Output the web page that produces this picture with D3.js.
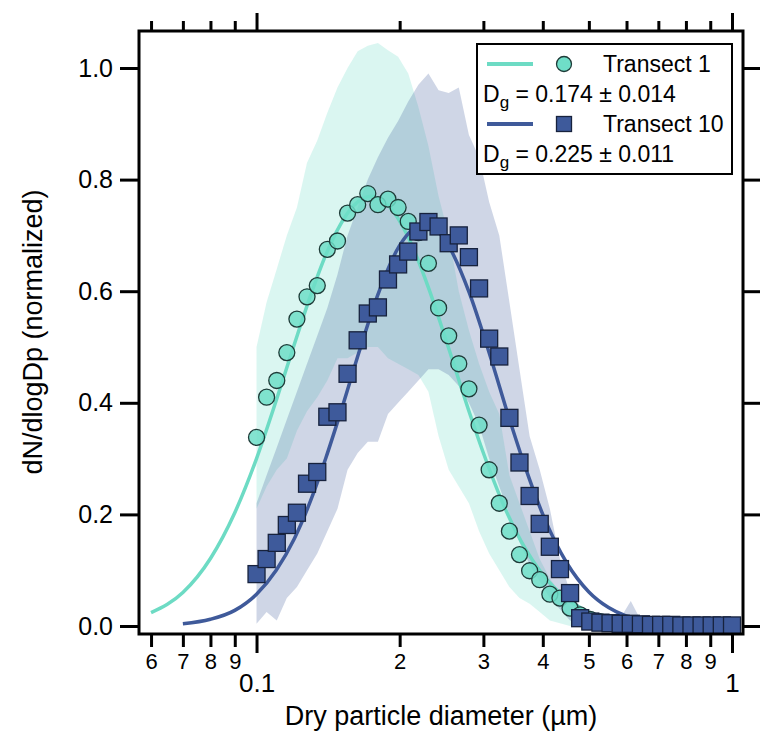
<!DOCTYPE html>
<html>
<head>
<meta charset="utf-8">
<script src="https://cdn.jsdelivr.net/npm/d3@7"></script>
<style>
  body { margin: 0; background: #fff; }
  text { font-family: "Liberation Sans", Arial, sans-serif; }
</style>
</head>
<body>
<svg width="760" height="732"></svg>
<script>
// bin diameters (um)
var diam = [0.1000, 0.1050, 0.1103, 0.1158, 0.1216, 0.1277, 0.1342, 0.1409, 0.1480, 0.1554,
  0.1632, 0.1714, 0.1800, 0.1890, 0.1985, 0.2085, 0.2190, 0.2299, 0.2415, 0.2536,
  0.2663, 0.2797, 0.2938, 0.3085, 0.3240, 0.3403, 0.3573, 0.3753, 0.3941, 0.4139,
  0.4347, 0.4565, 0.4794, 0.5035, 0.5288, 0.5553, 0.5832, 0.6125, 0.6433, 0.6755,
  0.7095, 0.7451, 0.7825, 0.8218, 0.8630, 0.9063, 0.9518, 1.0000];

var t1 = [0.338, 0.41, 0.44, 0.49, 0.55, 0.59, 0.61, 0.675, 0.69, 0.74,
  0.755, 0.775, 0.755, 0.765, 0.75, 0.725, 0.705, 0.65, 0.57, 0.52,
  0.47, 0.425, 0.36, 0.28, 0.22, 0.17, 0.128, 0.099, 0.083, 0.057,
  0.05, 0.032, 0.02, 0.012, 0.008, 0.005, 0.004, 0.003, 0.002, 0.002,
  0.001, 0.001, 0.001, 0, 0, 0, 0, 0];
var t1Hi = [0.50, 0.58, 0.64, 0.70, 0.75, 0.83, 0.87, 0.92, 0.965, 1.0,
  1.03, 1.04, 1.045, 1.032, 1.02, 0.99, 0.93, 0.86, 0.77, 0.70,
  0.60, 0.53, 0.47, 0.42, 0.38, 0.27, 0.22, 0.17, 0.12, 0.085,
  0.06, 0.035, 0.02, 0.01, 0.005, 0, 0, 0, 0, 0,
  0, 0, 0, 0, 0, 0, 0, 0];
var t1Lo = [0.21, 0.25, 0.28, 0.30, 0.35, 0.385, 0.41, 0.44, 0.48, 0.48,
  0.49, 0.50, 0.50, 0.48, 0.47, 0.46, 0.45, 0.42, 0.34, 0.28,
  0.25, 0.22, 0.17, 0.13, 0.10, 0.07, 0.05, 0.04, 0.025, 0.01,
  0.005, 0, 0, 0, 0, 0, 0, 0, 0, 0,
  0, 0, 0, 0, 0, 0, 0, 0];

var t10 = [0.093, 0.12, 0.149, 0.181, 0.203, 0.255, 0.276, 0.375, 0.383, 0.452,
  0.512, 0.56, 0.571, 0.621, 0.648, 0.671, 0.707, 0.724, 0.716, 0.686,
  0.70, 0.661, 0.605, 0.515, 0.483, 0.373, 0.293, 0.233, 0.183, 0.142,
  0.102, 0.059, 0.014, 0.008, 0.006, 0.005, 0.004, 0.004, 0.003, 0.002,
  0.002, 0.002, 0.001, 0.001, 0.001, 0.001, 0.001, 0.001];
var t10Hi = [0.22, 0.27, 0.32, 0.37, 0.42, 0.47, 0.52, 0.57, 0.63, 0.70,
  0.75, 0.80, 0.84, 0.875, 0.905, 0.94, 0.97, 0.99, 0.96, 0.955,
  0.965, 0.88, 0.84, 0.76, 0.70, 0.58, 0.46, 0.34, 0.28, 0.21,
  0.12, 0.06, 0.035, 0.025, 0.02, 0.02, 0.015, 0.045, 0.01, 0.005,
  0.005, 0.005, 0.005, 0.005, 0.005, 0.005, 0.005, 0.005];
var t10Lo = [0.004, 0.025, 0.01, 0.05, 0.07, 0.10, 0.13, 0.17, 0.21, 0.28,
  0.31, 0.33, 0.33, 0.38, 0.40, 0.42, 0.44, 0.46, 0.46, 0.45,
  0.43, 0.40, 0.36, 0.30, 0.25, 0.20, 0.15, 0.11, 0.08, 0.05,
  0.03, 0.01, 0, 0, 0, 0, 0, 0, 0, 0,
  0, 0, 0, 0, 0, 0, 0, 0];

// lognormal fit lines
var fit1D = [0.06, 0.07, 0.08, 0.09, 0.1, 0.11, 0.12, 0.13, 0.14, 0.15, 0.16, 0.174, 0.19,
  0.21, 0.23, 0.25, 0.28, 0.3, 0.33, 0.36, 0.4, 0.45, 0.5, 0.6, 0.7, 0.85, 1.0];
var fit1V = [0.024, 0.06, 0.121, 0.203, 0.30, 0.404, 0.504, 0.593, 0.666, 0.719, 0.753, 0.77, 0.752,
  0.691, 0.606, 0.514, 0.384, 0.31, 0.219, 0.152, 0.092, 0.048, 0.025, 0.007, 0.002, 0, 0];
var fit10D = [0.07, 0.08, 0.09, 0.1, 0.11, 0.12, 0.13, 0.14, 0.15, 0.165, 0.18, 0.2, 0.225,
  0.25, 0.28, 0.31, 0.34, 0.37, 0.4, 0.45, 0.5, 0.55, 0.6, 0.65, 0.7, 0.85, 1.0];
var fit10V = [0.004, 0.012, 0.028, 0.057, 0.10, 0.156, 0.225, 0.302, 0.381, 0.496, 0.594, 0.682, 0.72,
  0.69, 0.598, 0.484, 0.372, 0.277, 0.2, 0.112, 0.061, 0.033, 0.0175, 0.009, 0.005, 0.001, 0];

var yTicks = [0, 0.2, 0.4, 0.6, 0.8, 1.0];
var minorTicks = [0.06, 0.07, 0.08, 0.09, 0.2, 0.3, 0.4, 0.5, 0.6, 0.7, 0.8, 0.9];
var majorTicks = [0.1, 1];
var legendRows = [
  { name: "Transect 1", dg: "0.174 \u00b1 0.014" },
  { name: "Transect 10", dg: "0.225 \u00b1 0.011" }
];

var teal = "#6fdec8", blue = "#3e5a9b";

var svg = d3.select("svg"),
  pl = 139, pr = 743, pt = 31, pb = 634;

var x = d3.scaleLog().domain([0.0566, 1.0547]).range([pl, pr]);
var y = d3.scaleLinear().domain([0, 1]).range([626, 68]);

var band = d3.area()
  .x(function (d) { return x(d.dp); })
  .y0(function (d) { return y(d.lo); })
  .y1(function (d) { return y(d.hi); });

var line = d3.line()
  .x(function (d) { return x(d.dp); })
  .y(function (d) { return y(d.v); })
  .curve(d3.curveMonotoneX);

function zipBand(hi, lo) {
  return diam.map(function (d, i) { return { dp: d, hi: hi[i], lo: lo[i] }; });
}
function zipLine(ds, vs) {
  return ds.map(function (d, i) { return { dp: d, v: vs[i] }; });
}

svg.append("clipPath").attr("id", "plot")
  .append("rect").attr("x", pl).attr("y", pt)
  .attr("width", pr - pl).attr("height", pb - pt);

var g = svg.append("g").attr("clip-path", "url(#plot)");

g.append("path").attr("fill", teal).attr("fill-opacity", 0.26)
  .attr("d", band(zipBand(t1Hi, t1Lo)));
g.append("path").attr("fill", blue).attr("fill-opacity", 0.25)
  .attr("d", band(zipBand(t10Hi, t10Lo)));

g.append("path").attr("fill", "none").attr("stroke", "#6ddbc4").attr("stroke-width", 3.5)
  .attr("d", line(zipLine(fit1D, fit1V)));
g.append("path").attr("fill", "none").attr("stroke", "#3f5a9a").attr("stroke-width", 3.5)
  .attr("d", line(zipLine(fit10D, fit10V)));

g.selectAll(".c").data(t1).enter().append("circle")
  .attr("cx", function (d, i) { return x(diam[i]); })
  .attr("cy", function (d) { return y(d); })
  .attr("r", 8)
  .attr("fill", teal).attr("fill-opacity", 0.85)
  .attr("stroke", "#1e3b38").attr("stroke-width", 1.3);

g.selectAll(".s").data(t10).enter().append("rect")
  .attr("x", function (d, i) { return x(diam[i]) - 8.5; })
  .attr("y", function (d) { return y(d) - 8.5; })
  .attr("width", 17).attr("height", 17)
  .attr("fill", blue)
  .attr("stroke", "#17223d").attr("stroke-width", 1.3);

// axes
function style(sel) {
  sel.select(".domain").remove();
  sel.selectAll("line").attr("stroke", "#000").attr("stroke-width", 3);
}

svg.append("g").attr("transform", "translate(" + pl + ",0)")
  .call(d3.axisLeft(y).tickValues(yTicks).tickFormat(d3.format(".1f")).tickSize(19).tickPadding(7))
  .call(style)
  .selectAll("text").attr("font-size", 25).attr("fill", "#000")
  .attr("font-family", "Liberation Sans, Arial, sans-serif");

svg.append("g").attr("transform", "translate(" + pr + ",0)")
  .call(d3.axisRight(y).tickValues(yTicks).tickFormat("").tickSize(17))
  .call(style);

svg.append("g").attr("transform", "translate(0," + pb + ")")
  .call(d3.axisBottom(x).tickValues(minorTicks).tickSize(13).tickPadding(6)
    .tickFormat(function (d) { return Math.round(d < 0.1 ? d * 100 : d * 10); }))
  .call(style)
  .selectAll("text").attr("font-size", 22).attr("fill", "#000")
  .attr("font-family", "Liberation Sans, Arial, sans-serif");

svg.append("g").attr("transform", "translate(0," + pb + ")")
  .call(d3.axisBottom(x).tickValues(majorTicks).tickSize(19).tickPadding(21)
    .tickFormat(function (d) { return d === 1 ? "1" : "0.1"; }))
  .call(style)
  .selectAll("text").attr("font-size", 26).attr("fill", "#000")
  .attr("font-family", "Liberation Sans, Arial, sans-serif");

svg.append("g").attr("transform", "translate(0," + pt + ")")
  .call(d3.axisTop(x).tickValues(minorTicks).tickFormat("").tickSize(10))
  .call(style);
svg.append("g").attr("transform", "translate(0," + pt + ")")
  .call(d3.axisTop(x).tickValues(majorTicks).tickFormat("").tickSize(18))
  .call(style);

svg.append("rect")
  .attr("x", pl).attr("y", pt)
  .attr("width", pr - pl).attr("height", pb - pt)
  .attr("fill", "none").attr("stroke", "#000").attr("stroke-width", 3);

svg.append("text")
  .attr("x", (pl + pr) / 2).attr("y", 725)
  .attr("text-anchor", "middle").attr("font-size", 27)
  .text("Dry particle diameter (\u00b5m)");

svg.append("text")
  .attr("transform", "translate(42,332) rotate(-90)")
  .attr("text-anchor", "middle").attr("font-size", 27)
  .text("dN/dlogDp (normalized)");

// legend
var leg = svg.append("g");
leg.append("rect")
  .attr("x", 477).attr("y", 44).attr("width", 255).attr("height", 130)
  .attr("fill", "#fff").attr("stroke", "#000").attr("stroke-width", 2);

legendRows.forEach(function (r, i) {
  var yl = 64 + i * 60;
  leg.append("line")
    .attr("x1", 487).attr("x2", 533).attr("y1", yl).attr("y2", yl)
    .attr("stroke", i === 0 ? "#6ddbc4" : "#3f5a9a").attr("stroke-width", 4);
  if (i === 0) {
    leg.append("circle").attr("cx", 564).attr("cy", yl).attr("r", 7.5)
      .attr("fill", teal).attr("stroke", "#1e3b38").attr("stroke-width", 1.3);
  } else {
    leg.append("rect").attr("x", 564 - 7.5).attr("y", yl - 7.5)
      .attr("width", 15).attr("height", 15)
      .attr("fill", blue).attr("stroke", "#17223d").attr("stroke-width", 1.3);
  }
  leg.append("text").attr("x", 603).attr("y", yl + 8).attr("font-size", 23).text(r.name);
  var t = leg.append("text").attr("x", 483).attr("y", yl + 38).attr("font-size", 23);
  t.append("tspan").text("D");
  t.append("tspan").attr("dy", 6).attr("font-size", 17).text("g");
  t.append("tspan").attr("dy", -6).text(" = " + r.dg);
});
</script>
</body>
</html>
